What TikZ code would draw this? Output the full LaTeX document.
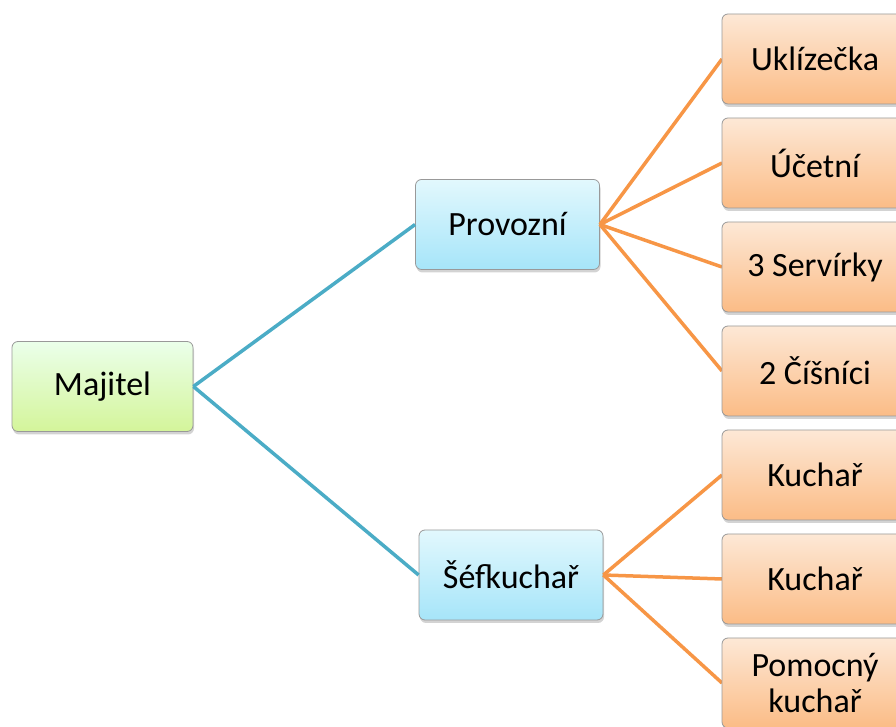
\documentclass[tikz,border=0pt]{standalone}
\usepackage{fontspec}
\setmainfont{Carlito}
\usetikzlibrary{shadows}

\definecolor{linkblue}{HTML}{4BACC6}
\definecolor{linkorange}{HTML}{F79646}

\tikzset{
  box/.style={draw=gray!80, line width=0.8pt, rounded corners=6pt,
    minimum height=90pt, align=center, font=\fontsize{34}{36}\selectfont,
    drop shadow={opacity=0.35, shadow xshift=1pt, shadow yshift=-3pt}},
  rootbox/.style={box, minimum width=181pt, top color=green!8!white, bottom color={rgb,255:red,212;green,245;blue,154}},
  midbox/.style={box, minimum width=184pt, top color={rgb,255:red,226;green,248;blue,253}, bottom color={rgb,255:red,166;green,229;blue,249}},
  leafbox/.style={box, minimum width=186pt, top color={rgb,255:red,253;green,232;blue,214}, bottom color={rgb,255:red,251;green,188;blue,134}},
  bluelink/.style={draw=linkblue, line width=3.5pt},
  orangelink/.style={draw=linkorange, line width=3.5pt}
}

\begin{document}
\begin{tikzpicture}[x=1pt, y=1pt]
  \useasboundingbox (0,0) rectangle (896,727);
  \clip (0,0) rectangle (896,727);

  % Owner
  \node[rootbox] (majitel) at (102.5,340.5) {Majitel};

  % Second level
  \node[midbox] (provozni) at (507.5,502.5) {Provozní};
  \node[midbox] (sefkuchar) at (511,152) {Šéfkuchař};

  % Links to the second level
  \draw[bluelink] (majitel.east) -- (provozni.west);
  \draw[bluelink] (majitel.east) -- (sefkuchar.west);

  % Staff under Provozní
  \foreach \name/\y/\txt in {uklizecka/668/Uklízečka, ucetni/564/Účetní,
                             servirky/460/3 Servírky, cisnici/356/2 Číšníci} {
      \draw[orangelink] (provozni.east) -- (815-93,\y);
      \node[leafbox] (\name) at (815,\y) {\txt};
    }

  % Staff under Šéfkuchař
  \foreach \name/\y/\txt in {kucharA/252/Kuchař, kucharB/148/Kuchař,
                             pomocny/44/Pomocný\\kuchař} {
      \draw[orangelink] (sefkuchar.east) -- (815-93,\y);
      \node[leafbox] (\name) at (815,\y) {\txt};
    }

\end{tikzpicture}
\end{document}
